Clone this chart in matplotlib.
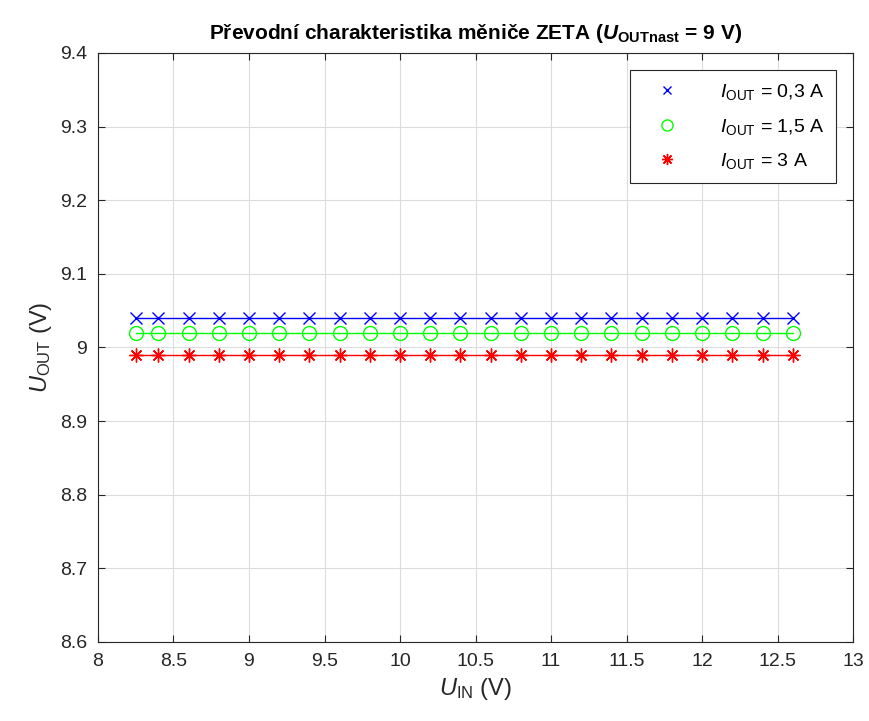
import matplotlib
matplotlib.use("Agg")
import matplotlib.pyplot as plt

# input voltage sweep (V)
u_in = [8.25, 8.4, 8.6, 8.8, 9.0, 9.2, 9.4, 9.6, 9.8, 10.0, 10.2, 10.4,
        10.6, 10.8, 11.0, 11.2, 11.4, 11.6, 11.8, 12.0, 12.2, 12.4, 12.6]
# measured output voltage (V)
u_out_03 = [9.04] * 23
u_out_15 = [9.02] * 23
u_out_3 = [8.99] * 23
labels = [r"$\mathit{I}_\mathrm{OUT}$ = 0,3 A",
          r"$\mathit{I}_\mathrm{OUT}$ = 1,5 A",
          r"$\mathit{I}_\mathrm{OUT}$ = 3 A"]

plt.rcParams["font.family"] = ["Liberation Sans", "DejaVu Sans"]
plt.rcParams["mathtext.fontset"] = "custom"
plt.rcParams["mathtext.rm"] = "Liberation Sans"
plt.rcParams["mathtext.it"] = "Liberation Sans:italic"
plt.rcParams["mathtext.bf"] = "Liberation Sans:bold"
plt.rcParams["mathtext.bfit"] = "Liberation Sans:italic:bold"

fig = plt.figure(figsize=(8.7, 7.21), dpi=100)
ax = fig.add_axes([0.1126, 0.1096, 0.868, 0.817])

# MATLAB-like asterisk: 8 spokes
asterisk = (8, 2, 0)
series = [(u_out_03, "blue", "x", 8, 1.0),
          (u_out_15, "#00ff00", "o", 10, 1.0),
          (u_out_3, "red", asterisk, 10, 1.0)]
for (vals, col, mk, ms, mew), lab in zip(series, labels):
    ax.plot(u_in, vals, color=col, linewidth=1.0)
    ax.plot(u_in, vals, linestyle="none", marker=mk, markersize=ms,
            markerfacecolor="none" if mk == "o" else col,
            markeredgecolor=col, markeredgewidth=mew, label=lab)

ax.set_xlim(8, 13)
ax.set_ylim(8.6, 9.4)
ax.set_xticks([8, 8.5, 9, 9.5, 10, 10.5, 11, 11.5, 12, 12.5, 13])
ax.set_xticklabels(["8", "8.5", "9", "9.5", "10", "10.5", "11", "11.5", "12", "12.5", "13"])
ax.set_yticks([8.6, 8.7, 8.8, 8.9, 9.0, 9.1, 9.2, 9.3, 9.4])
ax.set_yticklabels(["8.6", "8.7", "8.8", "8.9", "9", "9.1", "9.2", "9.3", "9.4"])
ax.grid(True, color="#dcdcdc", linewidth=0.8)
ax.set_axisbelow(True)
ax.tick_params(direction="in", length=5, labelsize=14, colors="#262626",
               top=True, right=True, pad=8)
for s in ax.spines.values():
    s.set_color("#262626")
    s.set_linewidth(0.8)

ax.set_xlabel(r"$\mathit{U}_\mathrm{IN}$ (V)", fontsize=17, color="#262626")
ax.set_ylabel(r"$\mathit{U}_\mathrm{OUT}$ (V)", fontsize=17, color="#262626")
ax.set_title(r"Převodní charakteristika měniče ZETA ($\mathbfit{U}_\mathbf{OUTnast}$ = 9 V)",
             fontsize=15, fontweight="bold", pad=10)

leg = ax.legend(loc="upper right", fontsize=14, fancybox=False, framealpha=1,
                edgecolor="#262626", markerscale=0.8, handletextpad=1.4,
                borderpad=0.6, labelspacing=0.75, handlelength=2.6,
                borderaxespad=0.9)
leg.get_frame().set_linewidth(0.8)

fig.savefig("out.png", dpi=100)
